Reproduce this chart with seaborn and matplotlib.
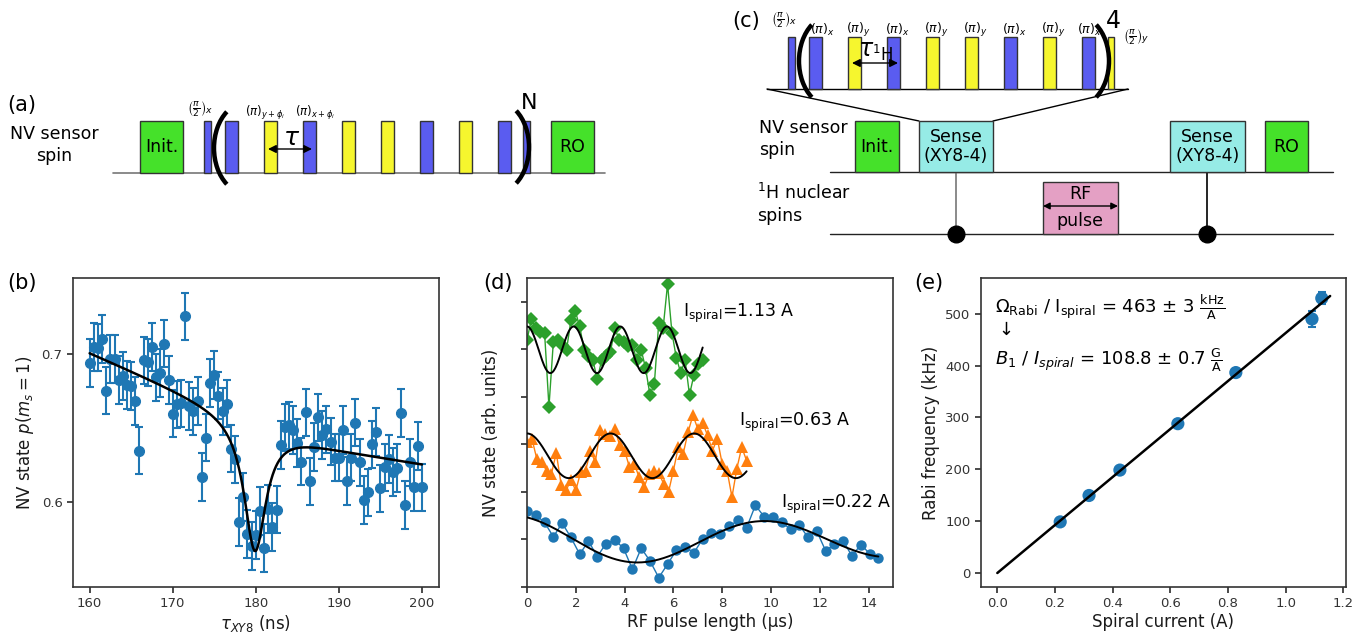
import numpy as np
import matplotlib
matplotlib.use("Agg")
import matplotlib.pyplot as plt
import seaborn as sns
from matplotlib.patches import Rectangle, FancyArrowPatch, Arc

# --- (b) XY8 scan of the NV sensor ---
tau_xy8 = np.arange(160.0, 200.01, 0.5)
p_ms1 = [0.6935, 0.7043, 0.7040, 0.7097, 0.6750, 0.6964, 0.6964, 0.6820, 0.6850, 0.6787,
         0.6780, 0.6680, 0.6346, 0.6953, 0.6940, 0.7045, 0.6840, 0.6867, 0.7067, 0.6820,
         0.6596, 0.6658, 0.6665, 0.7250, 0.6647, 0.6610, 0.6680, 0.6170, 0.6434, 0.6800,
         0.6856, 0.6717, 0.6610, 0.6663, 0.6360, 0.6288, 0.5867, 0.6034, 0.5784, 0.5703,
         0.5780, 0.5942, 0.5690, 0.5955, 0.5834, 0.5950, 0.6384, 0.6503, 0.6517, 0.6485,
         0.6396, 0.6272, 0.6604, 0.6139, 0.6370, 0.6570, 0.6452, 0.6490, 0.6407, 0.6300,
         0.6300, 0.6485, 0.6142, 0.6300, 0.6535, 0.6267, 0.6016, 0.6065, 0.6389, 0.6472,
         0.6092, 0.6234, 0.6290, 0.6202, 0.6229, 0.6600, 0.5980, 0.6267, 0.6103, 0.6378,
         0.6099]
p_ms1_err = 0.016
# fit: sloped background + soft shoulder - lorentzian dip
b_base, b_slope, b_ref = 0.6365, -0.0009, 188.0
b_sh_slope, b_sh_x0, b_sh_w = 0.0015, 186.0, 4.0
b_dip_depth, b_dip_x0, b_dip_g = 0.087, 179.9, 1.6

# --- (d) Rabi oscillations of the 1H spins ---
t_022 = np.round(np.arange(41) * 0.36, 2)
s_022 = [1.592, 1.514, 1.359, 1.056, 1.345, 1.042, 0.690, 0.965, 0.641, 0.915,
         0.993, 0.810, 0.373, 0.817, 0.549, 0.197, 0.479, 0.775, 0.845, 0.718,
         1.014, 1.127, 1.113, 1.275, 1.401, 1.246, 1.718, 1.479, 1.479, 1.359,
         1.218, 1.303, 1.042, 1.169, 0.761, 0.901, 0.972, 0.648, 0.894, 0.704,
         0.620]
t_063 = np.round(np.arange(46) * 0.2, 2)
s_063 = [3.05, 3.12, 2.70, 2.62, 2.45, 2.38, 2.82, 2.15, 2.03, 2.25,
         2.03, 2.42, 2.45, 2.86, 2.63, 3.30, 3.22, 3.18, 3.33, 2.98,
         2.87, 2.52, 2.58, 2.31, 2.10, 2.38, 2.45, 2.40, 2.17, 2.00,
         2.45, 2.94, 2.80, 3.26, 3.61, 3.33, 3.45, 3.19, 2.87, 3.12,
         2.59, 2.45, 1.89, 2.49, 2.94, 2.66]
t_113 = np.round(np.arange(41) * 0.18, 2)
s_113 = [5.20, 5.63, 5.44, 5.37, 5.35, 3.79, 5.16, 5.20, 5.10, 4.99,
         5.61, 5.80, 5.48, 4.99, 4.85, 4.77, 4.37, 4.77, 4.85, 4.95,
         5.44, 5.20, 5.16, 5.06, 5.10, 4.77, 4.99, 4.60, 4.04, 4.28,
         5.56, 5.45, 6.37, 5.35, 4.82, 4.51, 4.77, 4.04, 4.46, 4.70,
         4.77]
# fit parameters: offset, amplitude, freq (MHz), phase, decay (us)
fit_022 = (0.98, 0.52, 0.096, 0.372, 40.0)
fit_063 = (2.76, 0.47, 0.292, 0.0, 1e9)
fit_113 = (4.99, 0.49, 0.523, 0.0, 1e9)

# --- (e) Rabi frequency vs spiral current ---
i_spiral = [0.218, 0.318, 0.425, 0.626, 0.827, 1.091, 1.125]
f_rabi = [98.6, 149.5, 198.5, 288.0, 386.6, 490.0, 530.0]
f_rabi_err = [4, 4, 5, 4, 6, 15, 12]
rabi_slope = 463.0

# --- pulse sequences ---
xy8_phases = ["x", "y", "x", "y", "y", "x", "y", "x"]

BLUE, ORANGE, GREEN = "#1f77b4", "#ff7f0e", "#2ca02c"
P_BLUE, P_YEL = "#5a5cf0", "#f6f62e"
BOX_GREEN, BOX_CYAN, BOX_PINK = "#45e12a", "#96ebe6", "#e4a0c4"

sns.set_theme(style="ticks", rc={
    "axes.edgecolor": ".2", "axes.linewidth": 1.2,
    "xtick.color": ".2", "ytick.color": ".2",
    "xtick.labelsize": 9.5, "ytick.labelsize": 9.5,
    "axes.labelsize": 12, "axes.labelcolor": ".1",
    "text.color": "black",
    "xtick.major.size": 4, "ytick.major.size": 4,
})
plt.rcParams["font.family"] = ["DejaVu Sans"]

fig = plt.figure(figsize=(13.66, 6.35), dpi=100)

# schematic layer in pixel coordinates
ax0 = fig.add_axes([0, 0, 1, 1])
ax0.set_xlim(0, 1366)
ax0.set_ylim(635, 0)
ax0.axis("off")


def box(x0, x1, y0, y1, color, text=None, fs=12, lw=1.0):
    ax0.add_patch(Rectangle((x0, y0), x1 - x0, y1 - y0, fc=color, ec="#333333", lw=lw, zorder=3))
    if text:
        ax0.text((x0 + x1) / 2, (y0 + y1) / 2, text, ha="center", va="center",
                 fontsize=fs, linespacing=1.1, zorder=4)


def darrow(x0, x1, y, ms=12):
    ax0.add_patch(FancyArrowPatch((x0, y), (x1, y), arrowstyle="<|-|>", mutation_scale=ms,
                                  color="black", lw=1.0, zorder=5, shrinkA=0, shrinkB=0))


def paren(x_edge, y_mid, side, height=80, depth=17):
    # big bracket drawn as an elliptic arc; x_edge is its outer-most point
    ry = height / 2 / 0.88
    ang = np.degrees(np.arcsin(0.88))
    rx = depth / (1 - np.cos(np.radians(ang)))
    if side == "(":
        arc = Arc((x_edge + rx, y_mid), 2 * rx, 2 * ry, theta1=180 - ang, theta2=180 + ang,
                  lw=3.2, color="black", zorder=6)
    else:
        arc = Arc((x_edge - rx, y_mid), 2 * rx, 2 * ry, theta1=-ang, theta2=ang,
                  lw=3.2, color="black", zorder=6)
    ax0.add_patch(arc)


def pulses(x_start, top, base, labels=None, lab_y=None, lab_fs=8, lab_dx=None):
    for i, ph in enumerate(xy8_phases):
        x = x_start + 39 * i
        box(x, x + 13, top, base, P_BLUE if ph == "x" else P_YEL)
        if labels is not None and labels[i]:
            dx = lab_dx[i] if lab_dx else 0
            ax0.text(x + 10 + dx, lab_y, labels[i], ha="center", va="center", fontsize=lab_fs)


# (a)
ax0.text(7, 105, "(a)", fontsize=15, ha="left", va="center")
ax0.text(54, 145, "NV sensor\nspin", fontsize=12.5, ha="center", va="center", linespacing=1.25)
ax0.plot([113, 605], [173, 173], color="#777777", lw=1.2, zorder=2)
box(140, 183, 121, 173, BOX_GREEN, "Init.", fs=12.5)
box(204, 211, 121, 173, P_BLUE)
paren(214, 148, "(")
pulses(225, 121, 173)
ax0.text(265, 113, r"$(\pi)_{y+\phi_i}$", ha="center", va="center", fontsize=8.5)
ax0.text(315, 113, r"$(\pi)_{x+\phi_i}$", ha="center", va="center", fontsize=8.5)
ax0.text(200, 109, r"$\left(\frac{\pi}{2}\right)_x$", ha="center", va="center", fontsize=9.5)
paren(529, 147, ")")
ax0.text(529, 103, "N", fontsize=16, ha="center", va="center")
box(523, 530, 121, 173, P_BLUE)
box(551, 594, 121, 173, BOX_GREEN, "RO", fs=12.5)
darrow(268, 312, 149)
ax0.text(292, 138, r"$\tau$", fontsize=18, ha="center", va="center")

# (c)
ax0.text(732, 21, "(c)", fontsize=15, ha="left", va="center")
ax0.plot([767, 1128], [89, 89], color="black", lw=1.0, zorder=2)
ax0.plot([767, 919], [89, 121], color="black", lw=1.0, zorder=2)
ax0.plot([1128, 993], [89, 121], color="black", lw=1.0, zorder=2)
box(788, 795, 37, 89, P_BLUE)
ax0.text(784, 20, r"$\left(\frac{\pi}{2}\right)_x$", ha="center", va="center", fontsize=9.5)
paren(799, 61, "(")
c_labels = [r"$(\pi)_{%s}$" % ph for ph in xy8_phases]
pulses(809, 37, 89, c_labels, 30, 9, lab_dx=[3, 0, 0, 0, 0, 0, 0, -3])
paren(1109, 61, ")")
box(1108, 1114, 37, 89, P_YEL)
ax0.text(1113, 21, "4", fontsize=17, ha="center", va="center")
ax0.text(1136, 37, r"$\left(\frac{\pi}{2}\right)_y$", ha="center", va="center", fontsize=9.5)
darrow(852, 898, 63)
ax0.text(876, 51, r"$\tau_{^1\mathrm{H}}$", fontsize=17, ha="center", va="center")

ax0.text(759, 139, "NV sensor\nspin", fontsize=12.5, ha="left", va="center", linespacing=1.25)
ax0.text(757, 204, "$^1$H nuclear\nspins", fontsize=12.5, ha="left", va="center", linespacing=1.25)
ax0.plot([830, 1333], [172, 172], color="#222222", lw=1.0, zorder=2)
ax0.plot([830, 1333], [234, 234], color="#222222", lw=1.0, zorder=2)
box(855, 899, 121, 172, BOX_GREEN, "Init.", fs=12.5)
box(919, 993, 121, 172, BOX_CYAN, "Sense\n(XY8-4)", fs=12.5)
box(1170, 1245, 121, 172, BOX_CYAN, "Sense\n(XY8-4)", fs=12.5)
box(1265, 1308, 121, 172, BOX_GREEN, "RO", fs=12.5)
box(1043, 1118, 182, 234, BOX_PINK)
ax0.text(1080, 194, "RF", fontsize=12.5, ha="center", va="center", zorder=6)
ax0.text(1080, 221, "pulse", fontsize=12.5, ha="center", va="center", zorder=6)
darrow(1043, 1118, 206, ms=10)
ax0.plot([956, 956], [172, 234], color="#777777", lw=1.2, zorder=2)
ax0.plot([1207, 1207], [172, 234], color="black", lw=1.2, zorder=2)
ax0.plot([956, 1207], [234, 234], ls="none", marker="o", ms=12, color="black", zorder=4)

# panel labels for the data plots
for x, lab in [(7, "(b)"), (483, "(d)"), (914, "(e)")]:
    ax0.text(x, 283, lab, fontsize=15, ha="left", va="center")

W, H = 1366, 635
ax_b = fig.add_axes([73 / W, 48 / H, 366 / W, 309 / H])
ax_d = fig.add_axes([527 / W, 48 / H, 366 / W, 309 / H])
ax_e = fig.add_axes([981 / W, 48 / H, 365 / W, 309 / H])

# (b)
ax_b.errorbar(tau_xy8, p_ms1, yerr=p_ms1_err, fmt="o", color=BLUE, ms=7,
              elinewidth=1.5, capsize=3, capthick=1.5, zorder=2)
xb = np.linspace(160, 200, 800)
shoulder = b_sh_slope * b_sh_w * np.log1p(np.exp((b_sh_x0 - xb) / b_sh_w))
dip = b_dip_depth / (1 + ((xb - b_dip_x0) / b_dip_g) ** 2)
sns.lineplot(x=xb, y=b_base + b_slope * (xb - b_ref) + shoulder - dip,
             color="black", lw=1.8, ax=ax_b, zorder=3)
ax_b.set_xlim(158, 202.05)
ax_b.set_ylim(0.5429, 0.7508)
ax_b.set_xticks([160, 170, 180, 190, 200])
ax_b.set_yticks([0.6, 0.7])
ax_b.set_xlabel(r"$\tau_{XY8}$ (ns)", labelpad=2)
ax_b.set_ylabel(r"NV state $p(m_s = 1)$")

# (d)
series = [(t_022, s_022, BLUE, "o", 7.5, fit_022, (10.4, 1.73), "0.22"),
          (t_063, s_063, ORANGE, "^", 8, fit_063, (8.7, 3.47), "0.63"),
          (t_113, s_113, GREEN, "D", 7, fit_113, (6.4, 5.76), "1.13")]
for t, s, col, mk, ms, fit, lab_xy, lab in series:
    sns.lineplot(x=t, y=s, color=col, marker=mk, markersize=ms, lw=1.0,
                 markeredgecolor=col, markeredgewidth=0, ax=ax_d, zorder=2)
    c, amp, f, ph, dec = fit
    tf = np.linspace(0, t[-1], 500)
    sns.lineplot(x=tf, y=c + amp * np.exp(-tf / dec) * np.cos(2 * np.pi * f * tf + ph),
                 color="black", lw=1.4, ax=ax_d, zorder=3)
    ax_d.text(lab_xy[0], lab_xy[1], r"I$_{\mathrm{spiral}}$=%s A" % lab,
              fontsize=12.5, ha="left", va="center")
ax_d.set_xlim(0, 15)
ax_d.set_ylim(0, 6.5)
ax_d.set_xticks(range(0, 15, 2))
ax_d.set_yticks(range(0, 7))
ax_d.set_yticklabels([])
ax_d.set_xlabel("RF pulse length (µs)", labelpad=2)
ax_d.set_ylabel("NV state (arb. units)", labelpad=12)

# (e)
ax_e.errorbar(i_spiral, f_rabi, yerr=f_rabi_err, fmt="none", ecolor=BLUE,
              elinewidth=1.5, capsize=3, capthick=1.5, zorder=2)
sns.scatterplot(x=i_spiral, y=f_rabi, color=BLUE, s=90, edgecolor="none", ax=ax_e, zorder=3)
xe = np.array([0.0, 1.154])
sns.lineplot(x=xe, y=rabi_slope * xe, color="black", lw=1.8, ax=ax_e, zorder=4)
ax_e.text(-0.008, 512, r"$\Omega_{\mathrm{Rabi}}$ / I$_{\mathrm{spiral}}$ = 463 $\pm$ 3 $\frac{\mathrm{kHz}}{\mathrm{A}}$",
          fontsize=13, ha="left", va="center")
ax_e.text(0.03, 469, "↓", fontsize=13, ha="center", va="center")
ax_e.text(-0.008, 411, r"$B_1$ / $I_{spiral}$ = 108.8 $\pm$ 0.7 $\frac{\mathrm{G}}{\mathrm{A}}$",
          fontsize=13, ha="left", va="center")
ax_e.set_xlim(-0.0566, 1.209)
ax_e.set_ylim(-27, 569)
ax_e.set_xticks(np.round(np.arange(0, 1.21, 0.2), 1))
ax_e.set_yticks(range(0, 501, 100))
ax_e.set_xlabel("Spiral current (A)", labelpad=2)
ax_e.set_ylabel("Rabi frequency (kHz)")

fig.savefig("out.png", dpi=100)
